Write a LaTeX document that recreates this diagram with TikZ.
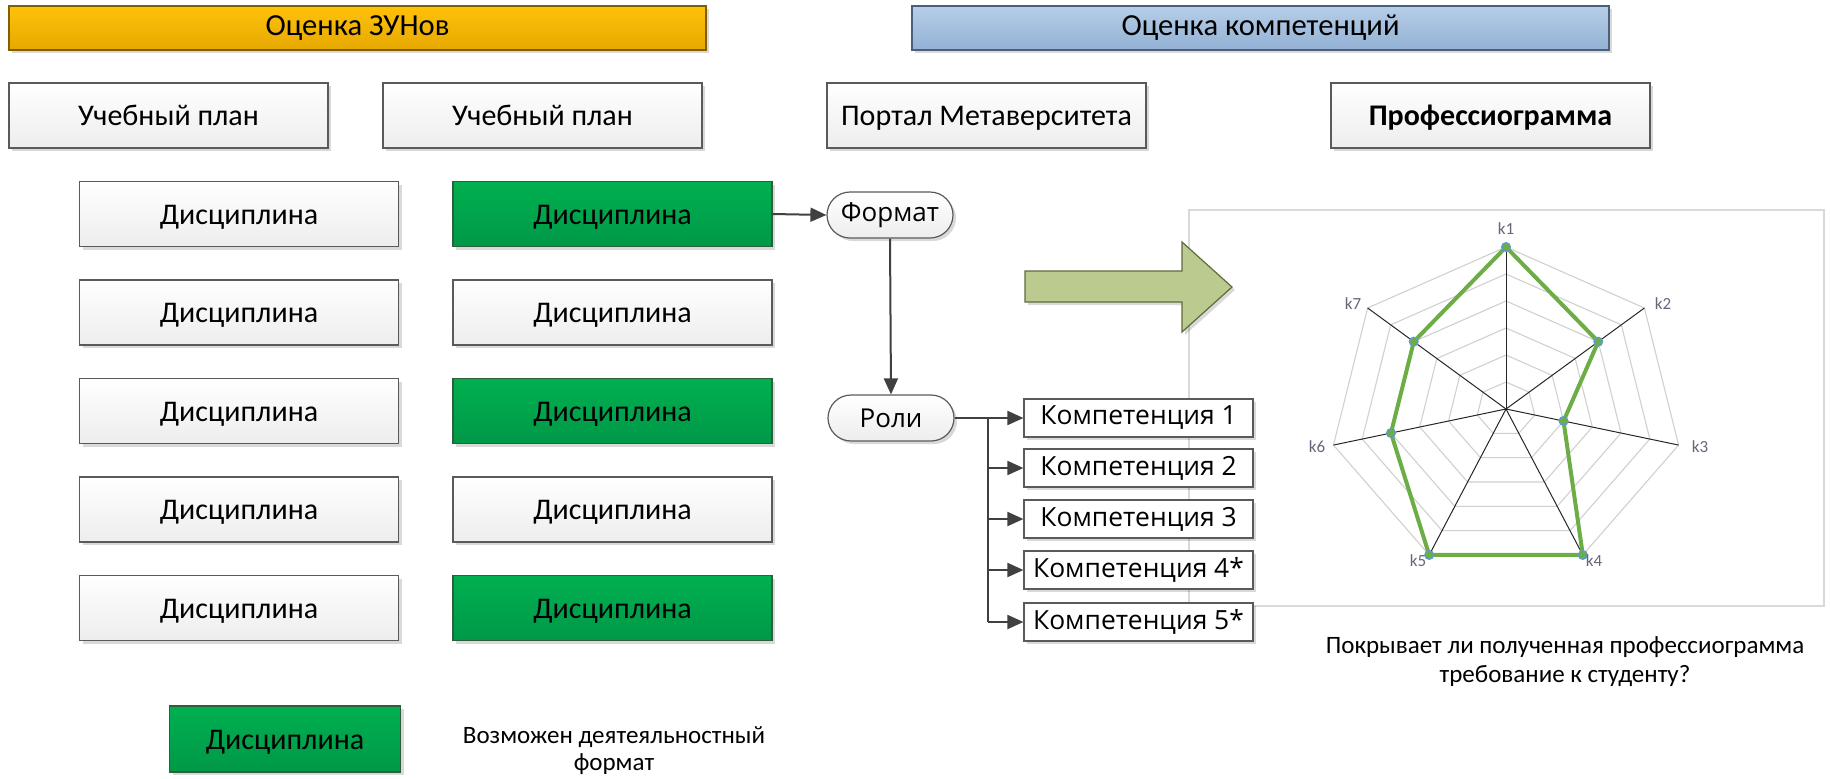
\documentclass[tikz,border=0pt]{standalone}
\usepackage{fontspec}
\setmainfont{Carlito}
\newfontfamily\segoe{Open Sans}
\usetikzlibrary{arrows.meta,shadows,calc}
\definecolor{boxline}{HTML}{5A5A5A}
\definecolor{boxgray}{HTML}{EDEDED}
\definecolor{grtop}{HTML}{00B050}
\definecolor{grbot}{HTML}{009848}
\definecolor{grline}{HTML}{2E5E3A}
\definecolor{goldtop}{HTML}{FFC20A}
\definecolor{goldbot}{HTML}{E6A800}
\definecolor{goldline}{HTML}{7F6000}
\definecolor{bluetop}{HTML}{B6CEE7}
\definecolor{bluebot}{HTML}{93B1D5}
\definecolor{blueline}{HTML}{4A5F7A}
\definecolor{arrowc}{HTML}{404040}
\definecolor{olive}{HTML}{BBCA8F}
\definecolor{oliveline}{HTML}{5E6B3A}
\definecolor{framec}{HTML}{D9D9D9}
\definecolor{gridc}{HTML}{D0D0D0}
\definecolor{axisc}{HTML}{262626}
\definecolor{datac}{HTML}{6DAD45}
\definecolor{markc}{HTML}{5B9BD5}
\definecolor{labc}{HTML}{66667A}
\begin{document}
\begin{tikzpicture}[x=0.5pt,y=-0.5pt,
  shd/.style={drop shadow={shadow xshift=1.5pt,shadow yshift=-1.5pt,fill=black,opacity=0.15}},
  lightbox/.style={draw=boxline,line width=0.7pt,top color=white,bottom color=boxgray,shd,
    minimum width=159.5pt,minimum height=32.5pt,inner sep=0pt,text height=10.8pt,text depth=0.6pt,
    font=\fontsize{15}{17}\selectfont},
  greenbox/.style={lightbox,top color=grtop,bottom color=grbot,draw=grline},
  header/.style={line width=0.7pt,shd,minimum width=348.5pt,minimum height=22pt,inner sep=0pt,
    font=\fontsize{15.3}{17}\selectfont},
  pill/.style={draw=boxline,line width=0.6pt,rounded corners=11.5pt,top color=white,bottom color=boxgray,shd,
    minimum width=63pt,minimum height=23pt,inner sep=0pt,font=\segoe\fontsize{13}{15}\selectfont},
  kbox/.style={draw=boxline,line width=0.6pt,fill=white,shd,minimum width=114.5pt,minimum height=19pt,
    inner sep=0pt,font=\segoe\fontsize{13.2}{15}\selectfont},
  conn/.style={draw=arrowc,line width=1pt,-{Triangle[length=8pt,width=7pt]}},
  plain/.style={draw=arrowc,line width=1pt},
  caption/.style={align=center,inner sep=0pt}
]
\useasboundingbox (0,0) rectangle (1831,778);

% headers
\node[header,draw=goldline,top color=goldtop,bottom color=goldbot] (zun) at (357.5,28) {Оценка ЗУНов};
\node[header,draw=blueline,top color=bluetop,bottom color=bluebot] (komp) at (1260.5,28) {Оценка компетенций};

% top row
\node[lightbox] (up1) at (168.5,115.5) {Учебный план};
\node[lightbox] (up2) at (542.5,115.5) {Учебный план};
\node[lightbox] (portal) at (986.5,115.5) {Портал Метаверситета};
\node[lightbox] (prof) at (1490.5,115.5) {\bfseries Профессиограмма};

% disciplines
\node[lightbox] (d11) at (239,214) {Дисциплина};
\node[lightbox] (d21) at (239,312.5) {Дисциплина};
\node[lightbox] (d31) at (239,411) {Дисциплина};
\node[lightbox] (d41) at (239,509.5) {Дисциплина};
\node[lightbox] (d51) at (239,608) {Дисциплина};
\node[greenbox] (d12) at (612.5,214) {Дисциплина};
\node[lightbox] (d22) at (612.5,312.5) {Дисциплина};
\node[greenbox] (d32) at (612.5,411) {Дисциплина};
\node[lightbox] (d42) at (612.5,509.5) {Дисциплина};
\node[greenbox] (d52) at (612.5,608) {Дисциплина};

% legend
\node[greenbox,minimum width=115.5pt,minimum height=33pt] (leg) at (285,739) {Дисциплина};
\node[caption,font=\fontsize{12.5}{13.5}\selectfont] (legt) at (614,751) {Возможен деятеяльностный\\формат};

% chart frame
\node[draw=framec,line width=0.6pt,minimum width=317.5pt,minimum height=198pt,inner sep=0pt] (frame) at (1506.5,408) {};

% flow
\node[pill] (format) at (890,215) {Формат};
\node[pill] (roli) at (891,418) {Роли};
\node[kbox] (c1) at (1138.5,418) {Компетенция 1};
\node[kbox] (c2) at (1138.5,468) {Компетенция 2};
\node[kbox] (c3) at (1138.5,519) {Компетенция 3};
\node[kbox] (c4) at (1138.5,570) {Компетенция 4*};
\node[kbox] (c5) at (1138.5,622) {Компетенция 5*};
\coordinate (br) at (988,418);

\draw[conn] (d12.east) -- (format.west);
\draw[conn] (format.south) -- (roli.north);
\draw[conn] (roli.east) -- (c1.west);
\draw[plain] (br) -- (br |- c5.west);
\draw[conn] (br |- c2.west) -- (c2.west);
\draw[conn] (br |- c3.west) -- (c3.west);
\draw[conn] (br |- c4.west) -- (c4.west);
\draw[conn] (br |- c5.west) -- (c5.west);

% big arrow
\draw[fill=olive,draw=oliveline,line width=0.6pt,shd,line join=miter]
  (1025,271) -- (1182,271) -- (1182,242) -- (1232,287) -- (1182,332) -- (1182,302) -- (1025,302) -- cycle;

% radar chart
\coordinate (ctr) at (1506,409);
\foreach \j in {1,...,6}{
  \draw[gridc,line width=0.55pt] plot[samples at={0,...,7}]
    ({1506+177*\j/6*cos(90-\x*360/7)},{409-162*\j/6*sin(90-\x*360/7)});
}
\foreach \i in {0,...,6}{
  \coordinate (ax\i) at ({1506+177*cos(90-\i*360/7)},{409-162*sin(90-\i*360/7)});
  \draw[axisc,line width=0.5pt] (ctr) -- (ax\i);
}
\foreach \v [count=\i from 0] in {6,4,2,6,6,4,4}{
  \coordinate (p\i) at ({1506+177*\v/6*cos(90-\i*360/7)},{409-162*\v/6*sin(90-\i*360/7)});
}
\draw[datac,line width=2pt,line join=round] (p0) -- (p1) -- (p2) -- (p3) -- (p4) -- (p5) -- (p6) -- cycle;
\foreach \i in {0,...,6}{
  \fill[datac,draw=markc,line width=0.6pt] (p\i) circle (2.2pt);
}
\begin{scope}[every node/.style={font=\fontsize{8.5}{9}\selectfont,text=labc,inner sep=0pt}]
\node (k1) at (1506,229) {k1};
\node (k2) at (1663,304) {k2};
\node (k3) at (1700,447) {k3};
\node (k4) at (1594,561) {k4};
\node (k5) at (1418,561) {k5};
\node (k6) at (1317,447) {k6};
\node (k7) at (1353,304) {k7};
\end{scope}

\node[caption,font=\fontsize{12.5}{14.5}\selectfont] (cap) at (1565,662) {Покрывает ли полученная профессиограмма\\требование к студенту?};
\end{tikzpicture}
\end{document}
